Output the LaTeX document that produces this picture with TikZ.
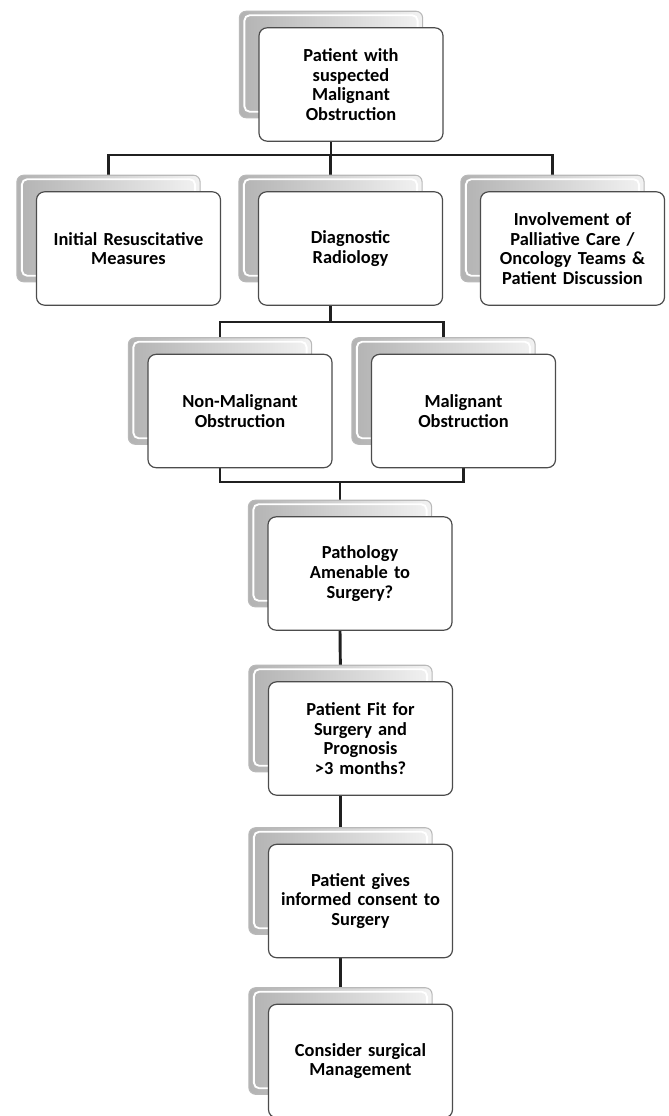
\documentclass[tikz,border=0pt]{standalone}
\usepackage{fontspec}
\setmainfont{Carlito}
\usetikzlibrary{positioning,backgrounds,calc}

\begin{document}
\begin{tikzpicture}[x=0.75pt, y=-0.75pt, semithick]
	\tikzstyle{box}=[draw=gray!60!black, fill=white, rounded corners=6pt,
	line width=0.9pt, minimum width=138pt, minimum height=85pt,
	text width=134pt, align=center, inner sep=2pt,
	font=\fontsize{13.8}{14.7}\selectfont\bfseries]
	\tikzstyle{tab}=[draw=gray!55, rounded corners=5pt, left color=gray!60,
	right color=gray!10, line width=0.8pt]
	\tikzstyle{glint}=[draw=white, rounded corners=4pt, line width=1.4pt]
	\tikzstyle{link}=[draw=gray!25!black, line width=2.2pt]

	\useasboundingbox (0,0) rectangle (668,1116);

	% boxes
	\node[box] (patient) at (351,84.5) {Patient with\\ suspected\\ Malignant\\ Obstruction};
	\node[box] (resus) at (128.5,248.5) {Initial Resuscitative\\ Measures};
	\node[box] (radiology) at (350.5,248.5) {Diagnostic\\ Radiology};
	\node[box] (palliative) at (572.5,248.5) {Involvement of\\ Palliative Care /\\ Oncology Teams \&\\ Patient Discussion};
	\node[box] (nonmal) at (240,411) {Non-Malignant\\ Obstruction};
	\node[box] (malig) at (463.5,411) {Malignant\\ Obstruction};
	\node[box] (amenable) at (360,573.5) {Pathology\\ Amenable to\\ Surgery?};
	\node[box] (fit) at (360.5,738.5) {Patient Fit for\\ Surgery and\\ Prognosis\\ >3 months?};
	\node[box] (consent) at (360.5,901) {Patient gives\\ informed consent to\\ Surgery};
	\node[box] (surgical) at (360.5,1061) {Consider surgical\\ Management};

	\coordinate (bus1) at (0,155);
	\coordinate (bus2) at (0,322);
	\coordinate (bus3) at (0,482);

	\begin{scope}[on background layer]
		% connectors
		\draw[link] ([xshift=-15pt]patient.south) -- ([xshift=-15pt]patient.south |- bus1);
		\draw[link] ([xshift=-15pt]resus.north) -- ([xshift=-15pt]resus.north |- bus1)
			-- ([xshift=-15pt]palliative.north |- bus1) -- ([xshift=-15pt]palliative.north);
		\draw[link] ([xshift=-15pt]radiology.north) -- ([xshift=-15pt]radiology.north |- bus1);
		\draw[link] ([xshift=-15pt]radiology.south) -- ([xshift=-15pt]radiology.south |- bus2);
		\draw[link] ([xshift=-15pt]nonmal.north) -- ([xshift=-15pt]nonmal.north |- bus2)
			-- ([xshift=-15pt]malig.north |- bus2) -- ([xshift=-15pt]malig.north);
		\draw[link] ([xshift=-15pt]nonmal.south) -- ([xshift=-15pt]nonmal.south |- bus3)
			-- (malig.south |- bus3) -- (malig.south);
		\draw[link] ([xshift=-15pt]amenable.north) -- ([xshift=-15pt]amenable.north |- bus3);
		\draw[link] ([xshift=-15pt]amenable.south) -- ([xshift=-15pt]fit.north);
		\draw[link] ([xshift=-15pt]fit.south) -- ([xshift=-15pt]consent.north);
		\draw[link] ([xshift=-15pt]consent.south) -- ([xshift=-15pt]surgical.north);

		% back tabs
		\foreach \n in {patient,resus,radiology,palliative,nonmal,malig,amenable,fit,consent,surgical}{
			\draw[tab] ([shift={(-19,-16)}]\n.north west) rectangle ([shift={(-21,-24)}]\n.south east);
			\draw[glint] ([shift={(-14,-12)}]\n.north west) rectangle ([shift={(-26,-30)}]\n.south east);
		}
	\end{scope}
\end{tikzpicture}
\end{document}
